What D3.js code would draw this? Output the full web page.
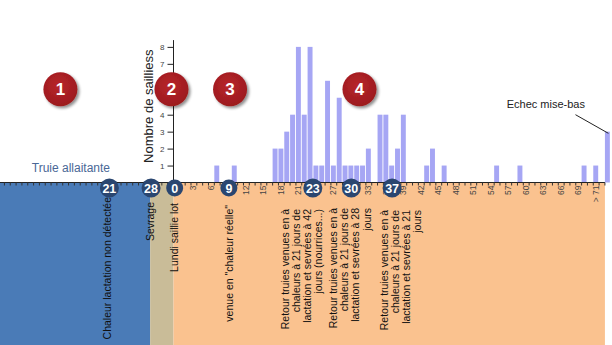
<!DOCTYPE html>
<html><head><meta charset="utf-8">
<script src="https://cdn.jsdelivr.net/npm/d3@7"></script>
<style>
body{margin:0;background:#fff}
svg{display:block;font-family:"Liberation Sans",Arial,sans-serif}
</style>
</head><body><svg id="c" width="612" height="345"></svg>
<script>
// ---- data ----
const barDays   = [7,10,17,18,19,20,21,22,23,24,25,26,27,28,29,30,31,32,33,35,36,37,38,39,43,44,46,55,59,70,72,74];
const barCounts = [1,1,2,2,3,4,8,4,8,1,1,6,1,5,1,1,1,1,2,4,4,1,2,4,1,2,1,1,1,1,1,3];
const xTickDays   = [3,6,9,12,15,18,21,24,27,30,33,36,39,42,45,48,51,54,57,60,63,66,69,72];
const xTickLabels = ["3","6","9","12","15","18","21","24","27","30","33","36","39","42","45","48","51","54","57","60","63","66","69","> 71"];
const yTicks = [1,2,3,4,5,6,7,8];
const phaseStart = [-40,-4,0];
const phaseEnd   = [-4,0,74];
const badgeLabels = ["21","28","0","9","23","30","37"];
const badgeDays   = [-11,-3.85,0.2,9.5,23.9,30.5,37.5];
const stepLabels = ["1","2","3","4"];
const stepDays   = [-19.4,-0.35,9.7,31.9];
const eventDays  = [-11.3,-4.0,0.1,9.6,22.0,30.3,39.0];
const eventTexts = [
  ["Chaleur lactation non détectée"],
  ["Sevrage"],
  ["Lundi saillie lot"],
  ["venue en \"chaleur réelle\""],
  ["Retour truies venues en à","chaleurs à 21 jours de","lactation et sevrées à 42","jours (nourrices...)"],
  ["Retour truies venues en à","chaleurs à 21 jours de","lactation et sevrées à 28","jours"],
  ["Retour truies venues en à","chaleurs à 21 jours de","lactation et sevrées à 21","jours"]
];
const yTitle = "Nombre de sailliess";
const phaseTitle = "Truie allaitante";
const noteText = "Echec mise-bas";

// ---- layout ----
const phaseColors = ["#4a7bb7","#c9bc98","#fac28f"];
const eventTop = [197,202,203,205,209,208,210];
const svg = d3.select("#c");
const x = d3.scaleLinear().domain([0,74]).range([173.5, 604.92]);
const step = x(1)-x(0);
const y = d3.scaleLinear().domain([0,8.4]).range([182.5,40.1]);
const H = 345;

// shadow filter
const defs = svg.append("defs");
const f = defs.append("filter").attr("id","sh").attr("x","-50%").attr("y","-50%").attr("width","200%").attr("height","200%");
f.append("feGaussianBlur").attr("in","SourceAlpha").attr("stdDeviation",1.6);
f.append("feOffset").attr("dx",1.5).attr("dy",2).attr("result","o");
f.append("feComponentTransfer").append("feFuncA").attr("type","linear").attr("slope",0.45);
const m = f.append("feMerge"); m.append("feMergeNode"); m.append("feMergeNode").attr("in","SourceGraphic");
const rg = defs.append("radialGradient").attr("id","rg").attr("cx","45%").attr("cy","40%").attr("r","60%");
rg.append("stop").attr("offset","0%").attr("stop-color","#b8262b");
rg.append("stop").attr("offset","100%").attr("stop-color","#9c1a1e");

// phase backgrounds
svg.append("g").selectAll("rect").data(phaseStart).join("rect")
  .attr("x",(d,i)=>Math.max(0,x(d)))
  .attr("y",y(0))
  .attr("width",(d,i)=>x(phaseEnd[i])-Math.max(0,x(d)))
  .attr("height",H-y(0))
  .attr("fill",(d,i)=>phaseColors[i]);

// bars
svg.append("g").selectAll("rect").data(barDays).join("rect")
  .attr("x",d=>x(d))
  .attr("width",step-0.9)
  .attr("y",(d,i)=>y(barCounts[i]))
  .attr("height",(d,i)=>y(0)-y(barCounts[i]))
  .attr("fill","#a6a6f4");

// x axis line & ticks
const gx = svg.append("g");
gx.append("line").attr("x1",0).attr("x2",x(74)).attr("y1",y(0)).attr("y2",y(0)).attr("stroke","#222").attr("stroke-width",1);
gx.selectAll("line.t").data(d3.range(-29,75)).join("line").attr("class","t")
  .attr("x1",d=>x(d)).attr("x2",d=>x(d)).attr("y1",y(0)).attr("y2",y(0)+3)
  .attr("stroke","#333").attr("stroke-width",1);
gx.selectAll("text").data(xTickDays).join("text")
  .attr("transform",d=>`translate(${x(d+0.5)-0.5},185.5) rotate(-90)`)
  .attr("text-anchor","end").attr("dy","0.35em")
  .attr("font-size",8.5).attr("fill","#444")
  .text((d,i)=>xTickLabels[i]);

// y axis
const yAxis = d3.axisLeft(y).tickValues(yTicks).tickSize(6).tickPadding(3).tickFormat(d3.format("d"));
const gy = svg.append("g").attr("transform",`translate(${x(0)},0)`).call(yAxis);
gy.select(".domain").attr("d",`M0,${y(8.4)}V${y(0)}`).attr("stroke","#222");
gy.selectAll(".tick line").attr("stroke","#222");
gy.selectAll(".tick text").attr("font-size",8).attr("fill","#444").attr("font-family","Liberation Sans, Arial, sans-serif");

// y title
svg.append("text")
  .attr("transform",`translate(148,${y(4.5)}) rotate(-90)`)
  .attr("text-anchor","middle").attr("dy","0.35em")
  .attr("font-size",13).attr("fill","#222").text(yTitle);

// phase title
svg.append("text").attr("x",x(-17.6)).attr("y",172).attr("text-anchor","middle")
  .attr("font-size",12).attr("fill","#4a6896").text(phaseTitle);

// note
svg.append("text").attr("x",x(57.15)).attr("y",y(4.37)).attr("font-size",11).attr("fill","#222").text(noteText);
svg.append("line").attr("x1",x(68.95)).attr("y1",y(4.0)).attr("x2",x(74.6)).attr("y2",y(2.9))
  .attr("stroke","#222").attr("stroke-width",1);

// event labels (rotated)
const ev = svg.append("g");
eventTexts.forEach((lines,i)=>{
  const n = lines.length, lh = 11.2;
  lines.forEach((t,j)=>{
    const cx = x(eventDays[i]) + (j-(n-1)/2)*lh;
    ev.append("text")
      .attr("transform",`translate(${cx},${eventTop[i]}) rotate(-90)`)
      .attr("text-anchor","end").attr("dy","0.35em")
      .attr("font-size",10.5).attr("fill","#111").text(t);
  });
});

// badges on axis
const bg = svg.append("g").selectAll("g").data(badgeLabels).join("g")
  .attr("transform",(d,i)=>`translate(${x(badgeDays[i])},188)`);
bg.append("circle").attr("r",d=>d.length>1?9.5:8.5).attr("fill","#2a4670");
bg.append("text").attr("text-anchor","middle").attr("dy","0.36em")
  .attr("font-size",12.5).attr("font-weight","bold").attr("fill","#fff").text(d=>d);

// red step circles
const sg = svg.append("g").selectAll("g").data(stepLabels).join("g")
  .attr("transform",(d,i)=>`translate(${x(stepDays[i])},${y(5.5)})`);
sg.append("circle").attr("r",17).attr("fill","url(#rg)").attr("filter","url(#sh)");
sg.append("text").attr("text-anchor","middle").attr("dy","0.36em")
  .attr("font-size",17).attr("font-weight","bold").attr("fill","#fff").text(d=>d);
</script>
</body></html>
